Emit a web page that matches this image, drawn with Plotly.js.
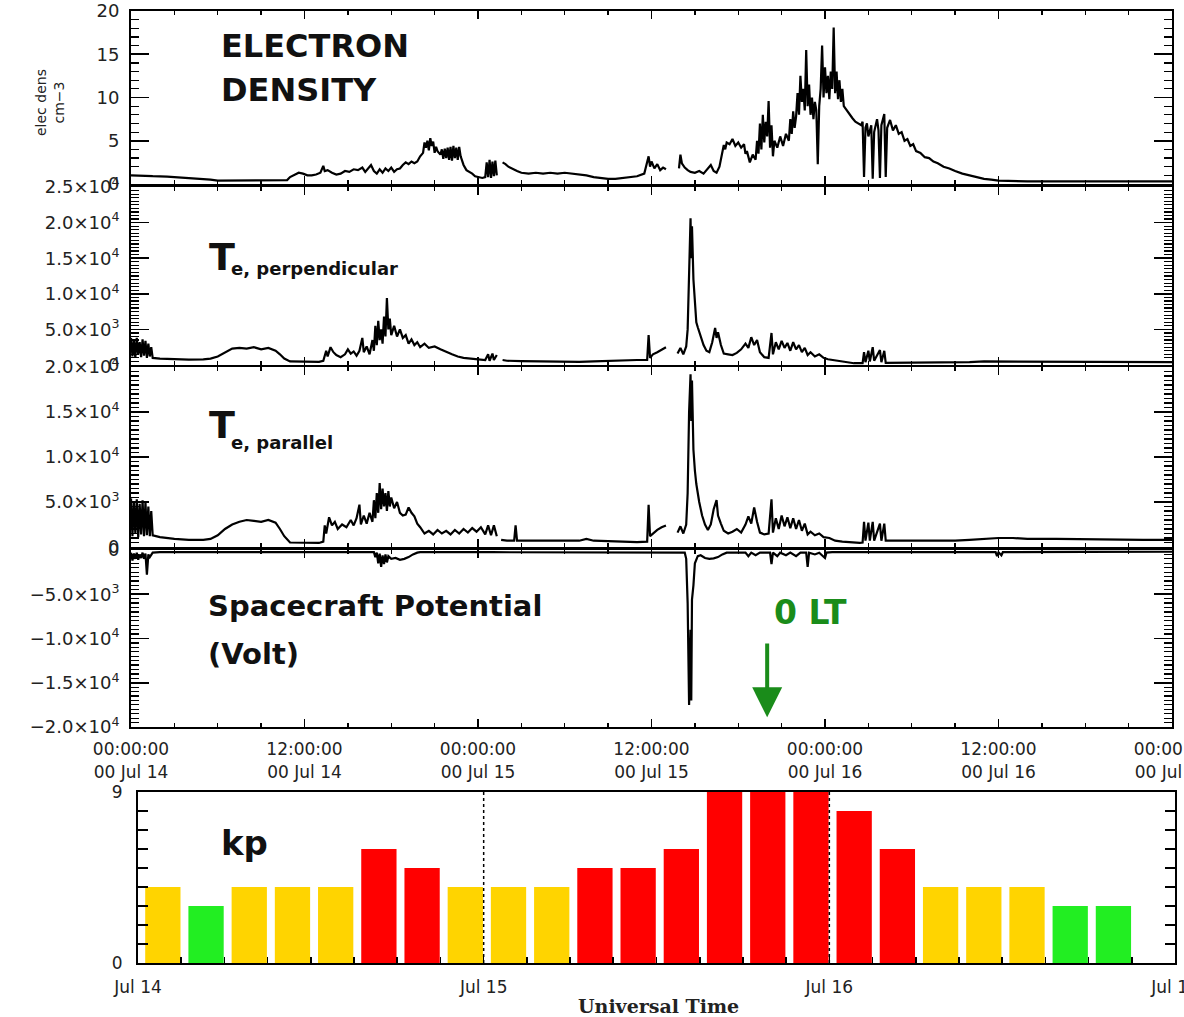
<!DOCTYPE html>
<html>
<head>
<meta charset="utf-8">
<script src="https://cdn.plot.ly/plotly-3.0.1.min.js"></script>
<style>
  html, body { margin: 0; padding: 0; background: #fff; overflow: hidden; }
  #chart { width: 1240px; height: 1017px; }
</style>
</head>
<body>
<div id="chart"></div>
<script>
// Samples are [hours since 00:00 UT Jul 14, value]; null marks a data gap.
const densitySamples = [
 [0,1.0],[0.5,1.0],[1,0.95],[1.5,0.9],[2,0.9],[2.5,0.85],[3,0.8],[3.5,0.75],[4,0.7],[4.5,0.65],[5,0.55],[5.5,0.5],[6,0.4],[8,0.4],[10,0.4],[10.8,0.45],
 [11.0,0.8],[11.3,1.1],[11.6,1.3],[11.9,1.2],[12.2,1.0],[12.5,1.0],[12.8,1.1],[13.1,1.3],[13.3,2.1],[13.4,1.5],[13.6,1.6],[13.9,1.3],[14.2,1.1],[14.5,1.2],[14.8,1.5],[15.1,1.4],[15.4,1.7],[15.7,1.6],[16.0,1.9],[16.2,1.4],[16.4,1.8],[16.6,2.2],[16.8,1.5],[17.0,1.2],[17.2,1.7],[17.4,1.3],[17.6,1.8],[17.8,1.5],[18.0,1.9],[18.2,1.4],[18.4,1.7],[18.6,1.8],[18.8,2.2],[19.0,2.5],[19.2,2.3],[19.4,2.6],[19.6,2.4],[19.8,2.6],
 [20.0,3.2],[20.2,3.6],[20.3,4.8],[20.4,4.2],[20.5,5.0],[20.6,3.9],[20.7,5.3],[20.8,4.4],[20.9,4.9],[21.0,3.6],[21.1,4.3],[21.2,3.8],[21.4,3.4],[21.5,4.0],[21.6,2.9],[21.7,4.1],[21.8,3.0],[21.9,4.2],[22.0,2.8],[22.1,4.3],[22.2,2.7],[22.3,4.4],[22.4,3.0],[22.5,4.2],[22.6,2.8],[22.7,4.3],[22.8,3.2],[23.0,2.2],[23.2,1.6],[23.4,1.4],[23.6,1.2],[23.8,0.9],[24.0,0.8],[24.3,0.7],[24.5,0.8],
 [24.6,2.5],[24.7,0.8],[24.8,2.8],[24.9,0.7],[25.0,2.6],[25.1,0.9],[25.2,2.7],[25.3,1.0],[25.5,null],
 [25.7,2.5],[25.9,2.3],[26.1,2.0],[26.3,1.8],[26.5,1.6],[26.7,1.5],[27.0,1.3],[27.5,1.2],[28.0,1.3],[28.5,1.2],[29.0,1.3],[29.5,1.2],[30.0,1.3],[30.5,1.2],[31.0,1.1],[31.5,1.0],[32.0,0.8],[32.5,0.7],[33.0,0.6],[33.5,0.6],[34.0,0.7],[34.5,0.8],[35.0,0.9],[35.5,1.2],
 [35.8,3.2],[35.9,2.0],[36.0,2.6],[36.2,1.8],[36.4,2.3],[36.6,1.6],[36.8,1.9],[37.0,1.7],[37.4,null],
 [37.9,1.8],[38.0,3.4],[38.1,2.4],[38.3,1.9],[38.5,1.6],[38.7,1.4],[39.0,1.3],[39.3,1.5],[39.6,1.2],[39.9,1.8],[40.1,2.2],[40.3,1.5],[40.5,1.3],[40.7,2.0],[40.8,2.8],[40.9,3.5],
 [41.0,4.5],[41.1,4.0],[41.2,4.8],[41.4,4.6],[41.6,5.2],[41.8,4.4],[42.0,4.8],[42.2,4.2],[42.4,4.6],[42.5,3.5],[42.6,3.8],[42.8,2.5],[43.0,3.4],[43.2,2.8],[43.3,5.0],[43.4,3.5],[43.5,7.0],[43.6,4.0],[43.7,8.0],[43.8,4.8],[43.9,7.2],[44.0,5.5],[44.1,9.6],[44.2,4.2],[44.3,6.8],[44.4,3.2],[44.5,5.0],[44.7,4.2],[44.9,5.5],[45.1,4.4],[45.3,5.8],[45.5,5.0],[45.6,7.5],[45.7,5.8],[45.8,8.4],[45.9,6.5],[46.0,7.8],[46.1,10.5],[46.2,8.0],[46.3,12.5],[46.4,9.5],[46.5,11.0],[46.6,8.5],[46.7,15.5],[46.8,9.0],[46.9,11.5],[47.0,8.0],[47.1,10.0],[47.2,7.5],[47.3,9.5],[47.4,8.5],[47.5,2.3],[47.6,9.0],[47.7,11.0],[47.8,16.0],[47.9,10.0],[48.0,13.5],[48.1,10.5],[48.2,12.5],[48.3,9.8],[48.4,13.0],[48.5,11.0],[48.6,18.1],[48.7,10.5],[48.8,13.0],[48.9,9.8],[49.0,12.0],[49.1,9.5],[49.2,11.0],[49.3,9.0],[49.5,8.5],[49.7,8.0],[49.9,7.6],[50.1,7.2],[50.3,7.0],[50.5,6.8],[50.6,7.2],[50.7,0.8],[50.8,6.5],[50.9,7.0],[51.0,5.5],[51.2,6.8],[51.3,0.6],[51.4,6.0],[51.6,7.5],[51.7,6.2],[51.8,0.7],[51.9,6.8],[52.1,8.1],[52.2,0.8],[52.3,6.5],[52.5,7.4],[52.7,6.2],[52.9,6.8],[53.1,5.8],[53.3,6.0],[53.5,5.0],[53.7,5.2],[53.9,4.4],[54.1,4.6],[54.3,3.8],[54.6,3.6],[54.9,3.1],[55.2,3.0],[55.5,2.6],[55.8,2.4],[56.2,2.0],[56.6,1.8],[57.0,1.5],[57.5,1.2],[58.0,1.0],[58.5,0.8],[59.0,0.6],[59.5,0.5],[60.0,0.4],[62,0.3],[66,0.3],[72,0.3]
];

const tePerpSamples = [
 [0,3800],[0.1,1200],[0.2,3500],[0.3,1000],[0.4,3800],[0.5,1500],[0.6,3200],[0.7,1100],[0.8,3600],[0.9,1300],[1.0,3400],[1.1,1000],[1.2,3000],[1.3,1200],[1.4,2500],[1.5,1000],
 [2,900],[3,800],[4,750],[5,800],[5.5,900],[6,1200],[6.5,1800],[7,2300],[7.5,2400],[8,2300],[8.5,2500],[9,2200],[9.5,2400],[10,2000],[10.3,1500],[10.6,900],[11,500],[12,450],[13,450],[13.3,600],
 [13.5,2000],[13.6,1200],[13.8,2500],[14.0,1800],[14.2,1400],[14.5,1100],[14.8,1500],[15.0,2200],[15.2,1600],[15.4,1900],[15.6,1300],[15.8,2000],[16.0,3800],[16.1,1800],[16.3,2600],[16.5,1500],[16.7,3500],[16.8,2000],[16.9,5500],[17.0,2800],[17.1,6200],[17.2,3500],[17.3,5000],[17.4,3000],[17.5,6800],[17.6,4000],[17.7,9400],[17.8,5000],[17.9,6500],[18.0,4200],[18.2,5500],[18.4,4000],[18.6,5000],[18.8,3800],[19.0,4200],[19.2,3000],[19.4,3600],[19.6,2800],[19.8,3200],[20.0,2500],[20.3,3000],[20.6,2400],[21.0,2600],[21.4,2200],[21.8,1800],[22.2,1500],[22.6,1200],[23.0,1000],[23.5,900],[24.0,800],[24.5,700],
 [24.7,1500],[24.8,600],[25.0,1600],[25.1,700],[25.3,1400],[25.5,null],
 [25.7,700],[26,600],[27,550],[28,500],[29,500],[30,450],[31,450],[32,500],[33,600],[34,650],[35,700],[35.7,700],
 [35.8,4200],[35.9,1000],[36.1,1500],[36.4,1800],[36.7,2200],[37.0,2500],[37.4,null],
 [37.8,1600],[38.0,2400],[38.2,1500],[38.4,2600],[38.5,5000],[38.6,14000],[38.7,20600],[38.75,15000],[38.8,19500],[38.9,12000],[39.0,8700],[39.1,6000],[39.2,5300],[39.4,4000],[39.6,2800],[39.8,2000],[40.0,1800],[40.2,3200],[40.4,5200],[40.5,3800],[40.6,4600],[40.8,2800],[41.0,1600],[41.3,1500],[41.6,1400],[41.9,1700],[42.2,2200],[42.5,3000],[42.7,2400],[42.9,3900],[43.1,2800],[43.3,3500],[43.5,1800],[43.8,1100],[44.1,1000],[44.3,4500],[44.4,1500],[44.6,3200],[44.8,2200],[45.0,3400],[45.2,2400],[45.4,3100],[45.6,2000],[45.8,3200],[46.0,2200],[46.2,2800],[46.4,1800],[46.6,2400],[46.8,1400],[47.0,1800],[47.3,1200],[47.6,1500],[47.9,1000],[48.2,800],[48.6,700],[49.0,500],[49.5,400],[50.0,250],[50.6,250],
 [50.7,1800],[50.8,400],[51.0,2000],[51.1,500],[51.3,2500],[51.4,600],[51.8,2100],[51.9,400],[52.1,2000],[52.2,300],[52.5,300],[54,300],[56,300],[58,400],[59,500],[61,500],[64,450],[68,400],[72,400]
];

const teParSamples = [
 [0,5400],[0.1,1200],[0.2,5000],[0.3,1500],[0.4,5300],[0.5,1100],[0.6,4800],[0.7,1400],[0.8,5200],[0.9,1200],[1.0,5000],[1.1,1300],[1.2,4500],[1.3,1200],[1.4,4000],[1.5,1300],
 [2,1100],[3,900],[4,800],[5,800],[5.5,900],[6,1300],[6.5,2000],[7,2500],[7.5,2800],[8,3000],[8.5,2900],[9,2800],[9.5,3000],[10,2700],[10.3,2000],[10.6,1200],[11,500],[12,450],[13,450],[13.3,600],
 [13.4,2400],[13.5,1500],[13.7,3300],[13.9,2400],[14.1,2800],[14.3,2000],[14.6,2500],[14.9,2200],[15.2,3000],[15.4,2400],[15.6,3200],[15.8,4700],[15.9,2500],[16.1,3500],[16.3,2600],[16.5,3800],[16.7,2800],[16.8,5200],[16.9,3200],[17.0,6000],[17.1,3800],[17.2,7100],[17.3,4200],[17.4,6500],[17.5,4500],[17.6,6000],[17.7,4000],[17.8,6200],[17.9,4500],[18.0,5500],[18.2,4300],[18.4,5000],[18.6,3800],[18.8,3500],[19.0,3600],[19.2,4400],[19.4,3800],[19.6,3400],[19.8,2600],[20.0,2200],[20.3,1500],[20.6,1800],[20.9,1400],[21.2,1900],[21.5,1500],[21.8,1800],[22.1,1400],[22.4,1900],[22.7,1500],[23.0,2000],[23.3,1600],[23.6,2100],[23.9,1700],[24.2,2200],[24.5,1400],[24.7,2400],[24.9,1300],[25.1,2400],[25.3,1200],[25.5,null],
 [25.6,800],[26.0,700],[26.5,700],[26.6,2400],[26.7,700],[27,700],[28,700],[29,700],[30,650],[31,700],[31.5,900],[32,700],[33,650],[34,600],[35,550],[35.7,600],
 [35.8,4700],[35.9,1200],[36.1,1500],[36.4,1900],[36.7,2200],[37.0,2400],[37.4,null],
 [37.8,1600],[38.0,2300],[38.2,1500],[38.4,2500],[38.5,6000],[38.6,15000],[38.7,19200],[38.75,14000],[38.8,18500],[38.9,10800],[39.0,8500],[39.1,7000],[39.3,5000],[39.5,3500],[39.7,2500],[39.9,1900],[40.1,2500],[40.3,4200],[40.5,5200],[40.6,3500],[40.8,2600],[41.0,1800],[41.3,1500],[41.6,1700],[41.9,2000],[42.2,1600],[42.5,2500],[42.7,3400],[42.9,2600],[43.1,4400],[43.3,2800],[43.5,1600],[43.8,1400],[44.1,1500],[44.3,5300],[44.4,1600],[44.6,3200],[44.8,2000],[45.0,3500],[45.2,2300],[45.4,3300],[45.6,2100],[45.8,3200],[46.0,2000],[46.2,3000],[46.4,1800],[46.6,2600],[46.8,1400],[47.0,1700],[47.3,1300],[47.6,1500],[47.9,1100],[48.3,1000],[48.7,700],[49.2,600],[49.8,500],[50.4,450],[50.6,500],
 [50.7,2800],[50.8,700],[51.0,2700],[51.1,700],[51.3,2800],[51.4,700],[51.8,2600],[51.9,700],[52.1,2600],[52.2,700],[53,700],[54,650],[55,700],[56,650],[57,700],[58,800],[59,900],[60,1000],[61,1000],[62,900],[64,900],[66,850],[68,850],[70,800],[72,800]
];

const potentialSamples = [
 [0,-300],[0.1,-1200],[0.2,-400],[0.3,-1000],[0.4,-300],[0.5,-1100],[0.6,-500],[0.7,-900],[0.8,-300],[0.9,-1000],[1.0,-400],[1.1,-2800],[1.2,-500],[1.3,-800],[1.5,-300],
 [2,-250],[6,-250],[10,-250],[14,-250],[16.8,-250],
 [16.9,-800],[17.0,-300],[17.1,-1500],[17.2,-400],[17.3,-1900],[17.4,-600],[17.5,-1600],[17.6,-500],[17.7,-1400],[17.8,-700],[18.0,-1000],[18.3,-900],[18.6,-1100],[18.9,-1000],[19.2,-800],[19.5,-500],[19.8,-300],[20.0,-250],
 [25,-250],[30,-250],[35,-250],[38.3,-300],
 [38.4,-1000],[38.5,-6000],[38.6,-17500],[38.7,-9000],[38.75,-17000],[38.8,-5600],[38.9,-4000],[39.0,-1500],[39.2,-700],[39.4,-600],[39.7,-900],[40.0,-1000],[40.3,-950],[40.6,-800],[40.9,-500],[41.2,-300],[42.5,-300],[42.7,-700],[42.9,-300],[43.2,-600],[43.5,-300],[44.2,-300],[44.3,-1600],[44.4,-300],[44.7,-700],[44.9,-300],[45.3,-600],[45.6,-300],[46.0,-700],[46.3,-300],[46.7,-300],[46.8,-1900],[46.9,-300],[47.3,-500],[47.6,-300],[48.0,-900],[48.1,-300],[48.5,-250],
 [54,-250],[59.8,-250],[59.9,-700],[60.0,-250],[60.2,-600],[60.3,-250],[66,-220],[72,-200]
];

// 3-hour Kp index, Jul 14 00 UT onward (last interval not available)
const kpIntervalStart = [0,3,6,9,12,15,18,21, 24,27,30,33,36,39,42,45, 48,51,54,57,60,63,66,69];
const kpValues        = [4,3,4,4,4,6,5,4,     4,4,5,5,6,9,9,9,        8,6,4,4,4,3,3,null];
const kpDayBoundaries = [24, 48];

const timeTickHours = [0,12,24,36,48,60,72];
const timeTickText = ['00:00:00<br>00 Jul 14','12:00:00<br>00 Jul 14','00:00:00<br>00 Jul 15','12:00:00<br>00 Jul 15','00:00:00<br>00 Jul 16','12:00:00<br>00 Jul 16','00:00:00<br>00 Jul 17'];
const kpTickHours = [0,24,48,72];
const kpTickText = ['Jul 14','Jul 15','Jul 16','Jul 17'];

const densTicks = [0,5,10,15,20];
const densTickText = ['0','5','10','15','20'];
const perpTicks = [0,5000,10000,15000,20000,25000];
const perpTickText = ['0','5.0×10<sup>3</sup>','1.0×10<sup>4</sup>','1.5×10<sup>4</sup>','2.0×10<sup>4</sup>','2.5×10<sup>4</sup>'];
const parTicks = [0,5000,10000,15000,20000];
const parTickText = ['0','5.0×10<sup>3</sup>','1.0×10<sup>4</sup>','1.5×10<sup>4</sup>','2.0×10<sup>4</sup>'];
const potTicks = [-20000,-15000,-10000,-5000,0];
const potTickText = ['−2.0×10<sup>4</sup>','−1.5×10<sup>4</sup>','−1.0×10<sup>4</sup>','−5.0×10<sup>3</sup>','0'];

// ---- page geometry helpers (pixel -> paper fraction) ----
// The figure is a little wider than the window so the last time labels run off the right edge.
const W = 1240, H = 1017;
const fx = p => p / W;
const fy = p => 1 - p / H;

const tickFont = { family: 'DejaVu Sans', size: 17, color: '#222' };

function timeAxis(showLabels) {
  return {
    domain: [fx(131), fx(1172)], range: [0, 72],
    tickmode: 'array', tickvals: timeTickHours, ticktext: timeTickText,
    showticklabels: showLabels, ticklabelstandoff: 6,
    ticks: 'inside', ticklen: 8, tickwidth: 1.6, tickcolor: '#000',
    minor: { tickmode: 'linear', tick0: 0, dtick: 3, ticks: 'inside', ticklen: 4, tickwidth: 1.3, tickcolor: '#000' },
    showline: true, linecolor: '#000', linewidth: 2, mirror: 'ticks',
    showgrid: false, zeroline: false, fixedrange: true, tickfont: tickFont
  };
}

function valueAxis(top, bottom, range, tickvals, ticktext, minorStep, anchor) {
  return {
    domain: [fy(bottom), fy(top)], range: range, anchor: anchor,
    tickmode: 'array', tickvals: tickvals, ticktext: ticktext, ticklabelstandoff: 6,
    ticks: 'inside', ticklen: 18, tickwidth: 1.6, tickcolor: '#000',
    minor: { tickmode: 'linear', tick0: range[0], dtick: minorStep, ticks: 'inside', ticklen: 8, tickwidth: 1.2, tickcolor: '#000' },
    showline: true, linecolor: '#000', linewidth: 2, mirror: 'ticks',
    showgrid: false, zeroline: false, fixedrange: true,
    tickfont: { family: 'DejaVu Sans', size: 18, color: '#222' }
  };
}

function lineTrace(samples, xa, ya) {
  return {
    type: 'scatter', mode: 'lines',
    x: samples.map(s => s[0]), y: samples.map(s => s[1]),
    xaxis: xa, yaxis: ya, connectgaps: false,
    line: { color: '#000', width: 2.2 }, hoverinfo: 'skip'
  };
}

function kpColor(v) {
  if (v >= 5) return '#ff0000';
  if (v >= 4) return '#ffd400';
  return '#22ee22';
}

const traces = [
  lineTrace(densitySamples, 'x', 'y'),
  lineTrace(tePerpSamples, 'x2', 'y2'),
  lineTrace(teParSamples, 'x3', 'y3'),
  lineTrace(potentialSamples, 'x4', 'y4'),
  {
    type: 'bar', x: kpIntervalStart, y: kpValues, xaxis: 'x5', yaxis: 'y5',
    offset: 0.5, width: 2.45,
    marker: { color: kpValues.map(v => v == null ? '#fff' : kpColor(v)), line: { width: 0 } },
    hoverinfo: 'skip'
  }
];

const boldFont = (size, color) => ({ family: 'DejaVu Sans', size: size, color: color || '#111', weight: 'bold' });
function label(text, xPx, yPx, font, xanchor) {
  return { text: text, xref: 'paper', yref: 'paper', x: fx(xPx), y: fy(yPx),
           xanchor: xanchor || 'left', yanchor: 'middle', showarrow: false, font: font };
}

const annotations = [
  label('ELECTRON', 219, 46, boldFont(32)),
  label('DENSITY', 219, 90, boldFont(32)),
  { text: 'elec dens<br>cm−3', xref: 'paper', yref: 'paper', x: fx(50), y: fy(103),
    xanchor: 'center', yanchor: 'middle', showarrow: false, textangle: -90,
    font: { family: 'DejaVu Sans', size: 14, color: '#222' } },
  label('T', 207, 257, boldFont(38)),
  label('e, perpendicular', 229, 268, boldFont(18)),
  label('T', 207, 425, boldFont(38)),
  label('e, parallel', 229, 442, boldFont(18)),
  label('Spacecraft Potential', 206, 606, boldFont(29)),
  label('(Volt)', 206, 654, boldFont(29)),
  label('0 LT', 810, 612, boldFont(33, '#1a8c1a'), 'center'),
  { text: '', xref: 'x4', yref: 'y4', axref: 'x4', ayref: 'y4',
    x: 44.0, y: -18900, ax: 44.0, ay: -10400,
    showarrow: true, arrowhead: 2, arrowsize: 1.5, arrowwidth: 4, arrowcolor: '#1a8c1a' },
  label('kp', 219, 843, boldFont(34)),
  label('Universal Time', 658, 1006, { family: 'DejaVu Serif', size: 19, color: '#222', weight: 'bold' }, 'center')
];

const shapes = kpDayBoundaries.map(h => ({
  type: 'line', xref: 'x5', yref: 'y5', x0: h, x1: h, y0: 0, y1: 9,
  line: { color: '#000', width: 1.5, dash: 'dot' }
}));

const layout = {
  width: W, height: H, autosize: false,
  margin: { l: 0, r: 0, t: 0, b: 0, pad: 0 },
  paper_bgcolor: '#fff', plot_bgcolor: '#fff', showlegend: false,
  xaxis: Object.assign(timeAxis(false), { anchor: 'y' }),
  xaxis2: Object.assign(timeAxis(false), { anchor: 'y2', matches: 'x' }),
  xaxis3: Object.assign(timeAxis(false), { anchor: 'y3', matches: 'x' }),
  xaxis4: Object.assign(timeAxis(true), { anchor: 'y4', matches: 'x' }),
  yaxis: valueAxis(11, 184, [0, 20], densTicks, densTickText, 1, 'x'),
  yaxis2: valueAxis(187, 365, [0, 25000], perpTicks, perpTickText, 500, 'x2'),
  yaxis3: valueAxis(367, 547, [0, 20000], parTicks, parTickText, 500, 'x3'),
  yaxis4: valueAxis(550, 727, [-20000, 0], potTicks, potTickText, 500, 'x4'),
  xaxis5: {
    domain: [fx(138), fx(1175)], range: [0, 72], anchor: 'y5',
    tickmode: 'array', tickvals: kpTickHours, ticktext: kpTickText, ticklabelstandoff: 8,
    ticks: 'inside', ticklen: 6, tickwidth: 1.6, tickcolor: '#000',
    minor: { tickmode: 'linear', tick0: 0, dtick: 3, ticks: 'inside', ticklen: 6, tickwidth: 1.6, tickcolor: '#000' },
    showline: true, linecolor: '#000', linewidth: 2, mirror: true,
    showgrid: false, zeroline: false, fixedrange: true, tickfont: tickFont
  },
  yaxis5: {
    domain: [fy(963), fy(792)], range: [0, 9], anchor: 'x5',
    tickmode: 'array', tickvals: [0, 9], ticktext: ['0', '9'], ticklabelstandoff: 10,
    ticks: 'inside', ticklen: 10, tickwidth: 1.4, tickcolor: '#000',
    minor: { tickmode: 'linear', tick0: 0, dtick: 1, ticks: 'inside', ticklen: 10, tickwidth: 1.4, tickcolor: '#000' },
    showline: true, linecolor: '#000', linewidth: 2, mirror: 'ticks',
    showgrid: false, zeroline: false, fixedrange: true, tickfont: tickFont
  },
  annotations: annotations,
  shapes: shapes
};

Plotly.newPlot('chart', traces, layout, { staticPlot: true, displayModeBar: false });
</script>
</body>
</html>
